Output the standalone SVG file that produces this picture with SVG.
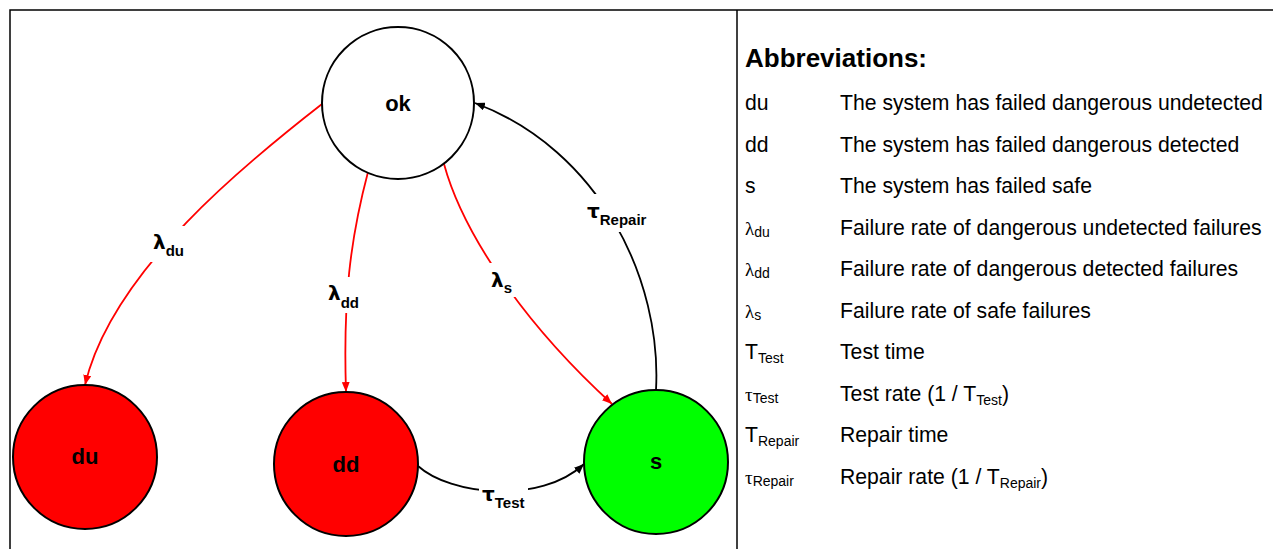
<svg xmlns="http://www.w3.org/2000/svg" width="1273" height="549" viewBox="0 0 1273 549">
<style>
.frame{fill:none;stroke:#000;stroke-width:1.5}
.node{stroke:#000;stroke-width:2}
.ntxt{font-family:"Liberation Sans",Arial,sans-serif;font-weight:bold;font-size:22px;text-anchor:middle;fill:#000}
.red{fill:none;stroke:#ff0000;stroke-width:1.8}
.blk{fill:none;stroke:#000;stroke-width:1.8}
.gap{fill:#fff;stroke:none}
.gr{font-family:"DejaVu Sans",sans-serif;font-weight:bold;font-size:20px;fill:#000}
.sb{font-family:"Liberation Sans",Arial,sans-serif;font-weight:bold;font-size:15px;fill:#000}
.hd{font-family:"Liberation Sans",Arial,sans-serif;font-weight:bold;font-size:26px;fill:#000}
.t{font-family:"Liberation Sans",Arial,sans-serif;font-size:21.2px;fill:#000}
.g1{font-family:"Liberation Serif","DejaVu Serif",serif;font-size:19px;fill:#000}
.s1{font-family:"Liberation Sans",Arial,sans-serif;font-size:14px;fill:#000}
</style>
<defs>
<marker id="ar" viewBox="0 0 10 8" refX="10" refY="4" markerWidth="10" markerHeight="8" markerUnits="userSpaceOnUse" orient="auto"><path d="M0,0 L10,4 L0,8 z" fill="#ff0000"/></marker>
<marker id="ab" viewBox="0 0 10 8" refX="10" refY="4" markerWidth="10" markerHeight="8" markerUnits="userSpaceOnUse" orient="auto"><path d="M0,0 L10,4 L0,8 z" fill="#000"/></marker>
</defs>
<rect x="0" y="0" width="1273" height="549" fill="#fff"/>
<g id="frame">
<path class="frame" d="M10,560 L10,10 L1280,10"/>
<line class="frame" x1="737" y1="10" x2="737" y2="560"/>
</g>
<g id="connectors">
<path class="red" d="M322,104 C250,160 112,270 85,385" marker-end="url(#ar)"/>
<path class="red" d="M368,172 C350,240 343,300 346,392" marker-end="url(#ar)"/>
<path class="red" d="M444,164 C462,230 520,320 612,404" marker-end="url(#ar)"/>
<path class="blk" d="M656,390 C662,280 600,150 475,103" marker-end="url(#ab)"/>
<path class="blk" d="M418,466 C450,495 540,505 584,464" marker-end="url(#ab)"/>
<rect class="gap" x="148" y="226" width="44" height="36"/>
<rect class="gap" x="325" y="277" width="39" height="36"/>
<rect class="gap" x="486" y="263" width="30" height="34"/>
<rect class="gap" x="584" y="194" width="66" height="38"/>
<rect class="gap" x="479" y="483" width="49" height="29"/>
<text x="153" y="249"><tspan class="gr">λ</tspan><tspan class="sb" dy="7">du</tspan></text>
<text x="328" y="300"><tspan class="gr">λ</tspan><tspan class="sb" dy="8">dd</tspan></text>
<text x="491" y="287"><tspan class="gr">λ</tspan><tspan class="sb" dy="6">s</tspan></text>
<text x="587" y="218"><tspan class="gr">τ</tspan><tspan class="sb" dy="7">Repair</tspan></text>
<text x="482" y="501"><tspan class="gr">τ</tspan><tspan class="sb" dy="7">Test</tspan></text>
</g>
<g id="node-ok"><circle class="node" cx="398" cy="103" r="76" fill="#fff"/><text class="ntxt" x="398" y="111">ok</text></g>
<g id="node-du"><circle class="node" cx="85" cy="457" r="72" fill="#ff0000"/><text class="ntxt" x="85" y="464">du</text></g>
<g id="node-dd"><circle class="node" cx="346" cy="464" r="72" fill="#ff0000"/><text class="ntxt" x="346" y="472">dd</text></g>
<g id="node-s"><circle class="node" cx="656" cy="462" r="72" fill="#00ff00"/><text class="ntxt" x="656" y="469">s</text></g>
<g id="legend">
<text class="hd" x="745" y="67">Abbreviations:</text>
<text class="t" x="745" y="110">du</text><text class="t" x="840" y="110">The system has failed dangerous undetected</text>
<text class="t" x="745" y="151.5">dd</text><text class="t" x="840" y="151.5">The system has failed dangerous detected</text>
<text class="t" x="745" y="193">s</text><text class="t" x="840" y="193">The system has failed safe</text>
<text x="745" y="234.5"><tspan class="g1">λ</tspan><tspan class="s1" dy="2">du</tspan></text><text class="t" x="840" y="234.5">Failure rate of dangerous undetected failures</text>
<text x="745" y="276"><tspan class="g1">λ</tspan><tspan class="s1" dy="2">dd</tspan></text><text class="t" x="840" y="276">Failure rate of dangerous detected failures</text>
<text x="745" y="317.5"><tspan class="g1">λ</tspan><tspan class="s1" dy="2">s</tspan></text><text class="t" x="840" y="317.5">Failure rate of safe failures</text>
<text x="745" y="359"><tspan class="t">T</tspan><tspan class="s1" dy="4">Test</tspan></text><text class="t" x="840" y="359">Test time</text>
<text x="745" y="400.5"><tspan class="g1">τ</tspan><tspan class="s1" dy="2">Test</tspan></text><text x="840" y="400.5"><tspan class="t">Test rate (1 / T</tspan><tspan class="s1" dy="4">Test</tspan><tspan class="t" dy="-4">)</tspan></text>
<text x="745" y="442"><tspan class="t">T</tspan><tspan class="s1" dy="4">Repair</tspan></text><text class="t" x="840" y="442">Repair time</text>
<text x="745" y="483.5"><tspan class="g1">τ</tspan><tspan class="s1" dy="2">Repair</tspan></text><text x="840" y="483.5"><tspan class="t">Repair rate (1 / T</tspan><tspan class="s1" dy="4">Repair</tspan><tspan class="t" dy="-4">)</tspan></text>
</g>
</svg>
